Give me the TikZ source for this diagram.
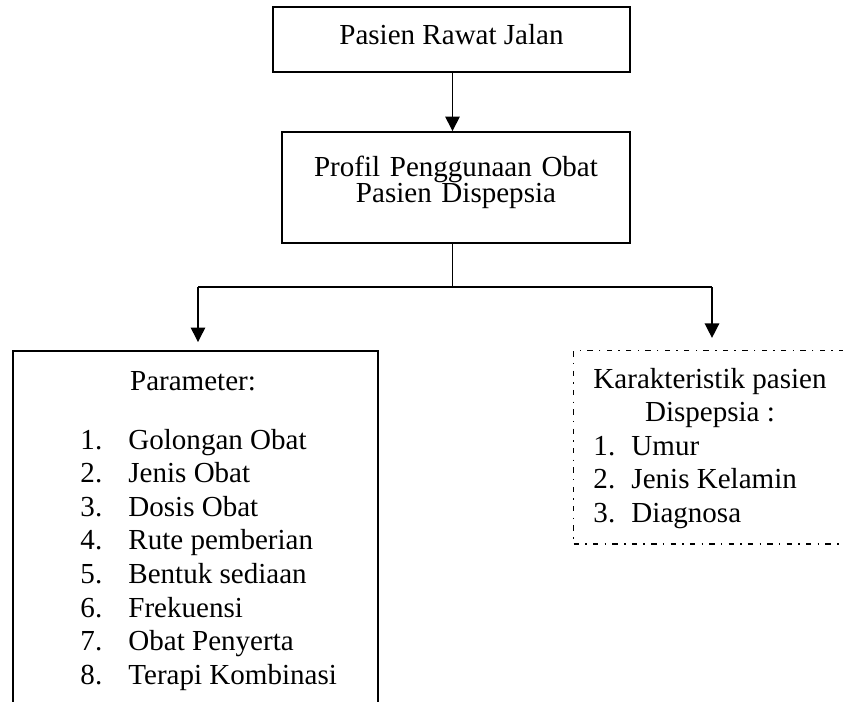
\documentclass[tikz,border=0pt]{standalone}
\usepackage{fontspec}
\setmainfont{Liberation Serif}
\usepackage{tikz}
\usetikzlibrary{arrows.meta}

\begin{document}
\begin{tikzpicture}[x=0.4132pt, y=-0.4132pt,
    every node/.style = {font=\fontsize{12}{13.9}\selectfont},
    main/.style = {draw, line width=0.75pt, inner sep=0pt},
    dotbox/.style = {draw, line width=0.6pt, inner sep=0pt, dash pattern=on 2.2pt off 2.6pt on 0.6pt off 2.6pt},
    arr/.style = {line width=0.6pt, -{Triangle[length=6pt, width=6pt]}}]
    \useasboundingbox (0,0) rectangle (843,701);
    \clip (0,0) rectangle (843,701);
    \node[main, anchor=base, minimum width=147.5pt, text height=15.4pt, text depth=11.4pt] (R) at (451.5,44.3) {Pasien Rawat Jalan};
    \node[main, anchor=base, text width=143.8pt, align=center, text height=18.2pt, text depth=27.7pt, font=\fontsize{12}{11}\selectfont] (P) at (456,176) {Profil Penggunaan Obat\hspace*{5pt}\\ Pasien Dispepsia\hspace*{5pt}};
    \node[main, anchor=north west, minimum width=150.8pt, minimum height=160pt] (A) at (12,350) {};
    \node[anchor=base, inner sep=0pt] (At) at (193,390) {Parameter:};
    \node[anchor=base west, inner sep=0pt] (Al) at (80,449) {\begin{tabular}[t]{@{}p{19.8pt}@{}l@{}}
        1. & Golongan Obat\\ 2. & Jenis Obat\\ 3. & Dosis Obat\\ 4. & Rute pemberian\\
        5. & Bentuk sediaan\\ 6. & Frekuensi\\ 7. & Obat Penyerta\\ 8. & Terapi Kombinasi
    \end{tabular}};
    \node[dotbox, anchor=north west, minimum width=160pt, minimum height=79.8pt] (K) at (573,350) {};
    \node[anchor=base west, inner sep=0pt] (Kt) at (593,388) {\begin{tabular}[t]{@{}p{15.7pt}@{}l@{}}
        \multicolumn{2}{@{}c@{}}{Karakteristik pasien}\\ \multicolumn{2}{@{}c@{}}{Dispepsia :}\\
        1. & Umur\\ 2. & Jenis Kelamin\\ 3. & Diagnosa
    \end{tabular}};
    \coordinate (F) at (452.5,287);
    \coordinate (FL) at (198,287);
    \coordinate (FR) at (712,287);
    \draw[arr] (R.south -| F) -- (P.north -| F);
    \draw[line width=0.6pt] (P.south -| F) -- (F);
    \draw[line width=0.6pt] (FL) -- (FR);
    \draw[arr, shorten >=3.3pt] (FL) -- (FL |- A.north);
    \draw[arr, shorten >=5pt] (FR) -- (FR |- K.north);
\end{tikzpicture}
\end{document}
